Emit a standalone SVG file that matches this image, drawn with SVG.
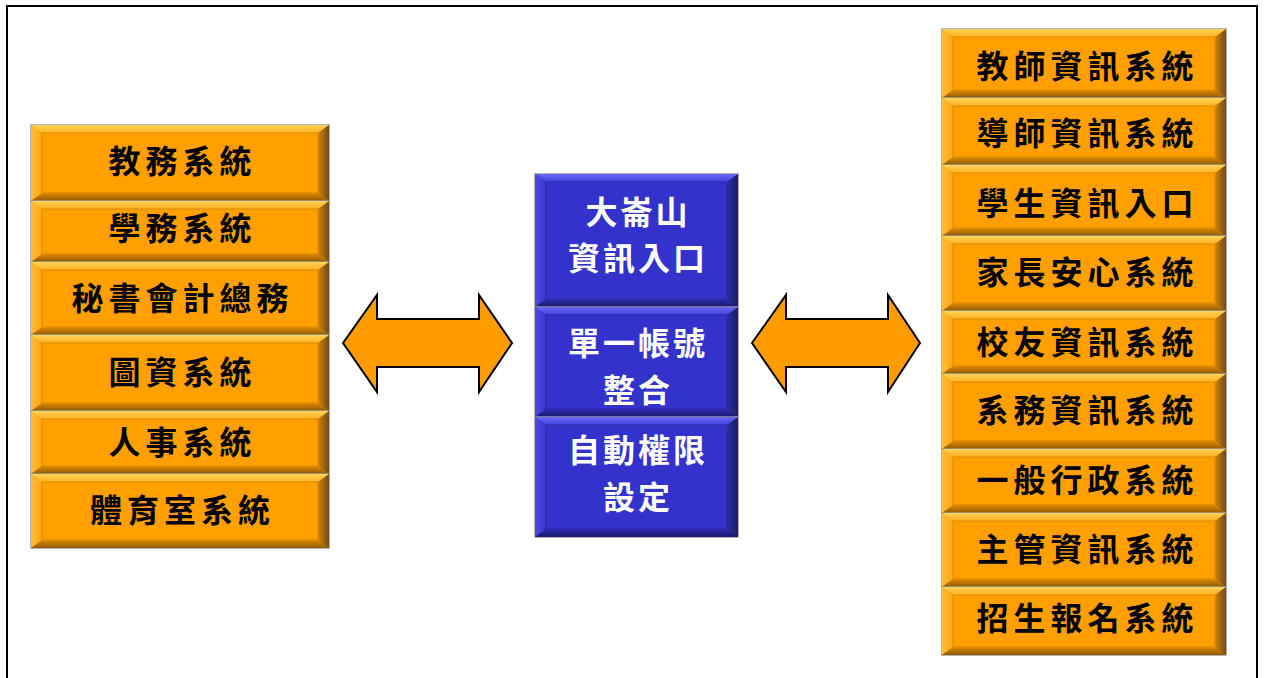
<svg xmlns="http://www.w3.org/2000/svg" width="1264" height="678" viewBox="0 0 1264 678">
<defs>
<linearGradient id="gTopO" x1="0" y1="0" x2="0" y2="1"><stop offset="0" stop-color="#FFD458"/><stop offset="1" stop-color="#FFB020"/></linearGradient>
<linearGradient id="gBotO" x1="0" y1="0" x2="0" y2="1"><stop offset="0" stop-color="#E08A00"/><stop offset="1" stop-color="#8E5A08"/></linearGradient>
<linearGradient id="gRightO" x1="0" y1="0" x2="1" y2="0"><stop offset="0" stop-color="#D08400"/><stop offset="1" stop-color="#6E4A1E"/></linearGradient>
<linearGradient id="gLeftO" x1="0" y1="0" x2="1" y2="0"><stop offset="0" stop-color="#FFBC3A"/><stop offset="1" stop-color="#FFA510"/></linearGradient>
<linearGradient id="gTopB" x1="0" y1="0" x2="0" y2="1"><stop offset="0" stop-color="#6A6AF4"/><stop offset="1" stop-color="#4040DC"/></linearGradient>
<linearGradient id="gBotB" x1="0" y1="0" x2="0" y2="1"><stop offset="0" stop-color="#2E2EB4"/><stop offset="1" stop-color="#18186A"/></linearGradient>
<linearGradient id="gRightB" x1="0" y1="0" x2="1" y2="0"><stop offset="0" stop-color="#2D2DA8"/><stop offset="1" stop-color="#1E1E5E"/></linearGradient>
<linearGradient id="gLeftB" x1="0" y1="0" x2="1" y2="0"><stop offset="0" stop-color="#4C4CE4"/><stop offset="1" stop-color="#3838D0"/></linearGradient>
</defs>
<style>
.base-o{fill:#FFA000;stroke:#9A9A9A;stroke-width:1.5}
.top-o{fill:url(#gTopO)}
.left-o{fill:url(#gLeftO)}
.bot-o{fill:url(#gBotO)}
.right-o{fill:url(#gRightO)}
.in-o{fill:#FFA000;stroke:#D88A00;stroke-width:1}
.base-b{fill:#3333CC;stroke:#9A9A9A;stroke-width:1.5}
.top-b{fill:url(#gTopB)}
.left-b{fill:url(#gLeftB)}
.bot-b{fill:url(#gBotB)}
.right-b{fill:url(#gRightB)}
.in-b{fill:#3333CC;stroke:#2828A8;stroke-width:1}
.t{font-family:"Noto Sans CJK TC","Noto Sans CJK SC",sans-serif;font-weight:bold;font-size:32px;text-anchor:middle}
.to{fill:#000;letter-spacing:5px}
.tb{fill:#FFF;letter-spacing:3px}
.arrow{fill:#FF9C00;stroke:#000;stroke-width:2;stroke-linejoin:miter}
</style>
<rect x="0" y="0" width="1264" height="678" fill="#FFFFFF"/>
<rect id="frame" x="7" y="6" width="1250" height="690" fill="none" stroke="#000" stroke-width="2"/>

<g id="left-1"><rect class="base-o" x="31" y="125" width="298" height="76"/><polygon class="top-o" points="31,125 329,125 318,133 42,133"/><polygon class="left-o" points="31,125 42,133 42,193 31,201"/><polygon class="bot-o" points="31,201 329,201 318,193 42,193"/><polygon class="right-o" points="329,125 318,133 318,193 329,201"/><rect class="in-o" x="42" y="133" width="276" height="60"/><text class="t to" x="182.5" y="173">教務系統</text></g>
<g id="left-2"><rect class="base-o" x="31" y="201" width="298" height="61"/><polygon class="top-o" points="31,201 329,201 318,209 42,209"/><polygon class="left-o" points="31,201 42,209 42,254 31,262"/><polygon class="bot-o" points="31,262 329,262 318,254 42,254"/><polygon class="right-o" points="329,201 318,209 318,254 329,262"/><rect class="in-o" x="42" y="209" width="276" height="45"/><text class="t to" x="182.5" y="240">學務系統</text></g>
<g id="left-3"><rect class="base-o" x="31" y="262" width="298" height="73"/><polygon class="top-o" points="31,262 329,262 318,270 42,270"/><polygon class="left-o" points="31,262 42,270 42,327 31,335"/><polygon class="bot-o" points="31,335 329,335 318,327 42,327"/><polygon class="right-o" points="329,262 318,270 318,327 329,335"/><rect class="in-o" x="42" y="270" width="276" height="57"/><text class="t to" x="182.5" y="310">秘書會計總務</text></g>
<g id="left-4"><rect class="base-o" x="31" y="335" width="298" height="76"/><polygon class="top-o" points="31,335 329,335 318,343 42,343"/><polygon class="left-o" points="31,335 42,343 42,403 31,411"/><polygon class="bot-o" points="31,411 329,411 318,403 42,403"/><polygon class="right-o" points="329,335 318,343 318,403 329,411"/><rect class="in-o" x="42" y="343" width="276" height="60"/><text class="t to" x="182.5" y="384">圖資系統</text></g>
<g id="left-5"><rect class="base-o" x="31" y="411" width="298" height="63"/><polygon class="top-o" points="31,411 329,411 318,419 42,419"/><polygon class="left-o" points="31,411 42,419 42,466 31,474"/><polygon class="bot-o" points="31,474 329,474 318,466 42,466"/><polygon class="right-o" points="329,411 318,419 318,466 329,474"/><rect class="in-o" x="42" y="419" width="276" height="47"/><text class="t to" x="182.5" y="454">人事系統</text></g>
<g id="left-6"><rect class="base-o" x="31" y="474" width="298" height="74"/><polygon class="top-o" points="31,474 329,474 318,482 42,482"/><polygon class="left-o" points="31,474 42,482 42,540 31,548"/><polygon class="bot-o" points="31,548 329,548 318,540 42,540"/><polygon class="right-o" points="329,474 318,482 318,540 329,548"/><rect class="in-o" x="42" y="482" width="276" height="58"/><text class="t to" x="182.5" y="522">體育室系統</text></g>

<g id="mid-1"><rect class="base-b" x="535" y="174" width="203" height="133"/><polygon class="top-b" points="535,174 738,174 727,182 546,182"/><polygon class="left-b" points="535,174 546,182 546,299 535,307"/><polygon class="bot-b" points="535,307 738,307 727,299 546,299"/><polygon class="right-b" points="738,174 727,182 727,299 738,307"/><rect class="in-b" x="546" y="182" width="181" height="117"/><text class="t tb" x="638" y="224">大崙山</text><text class="t tb" x="638" y="270">資訊入口</text></g>
<g id="mid-2"><rect class="base-b" x="535" y="307" width="203" height="110"/><polygon class="top-b" points="535,307 738,307 727,315 546,315"/><polygon class="left-b" points="535,307 546,315 546,409 535,417"/><polygon class="bot-b" points="535,417 738,417 727,409 546,409"/><polygon class="right-b" points="738,307 727,315 727,409 738,417"/><rect class="in-b" x="546" y="315" width="181" height="94"/><text class="t tb" x="638" y="355">單一帳號</text><text class="t tb" x="638" y="402">整合</text></g>
<g id="mid-3"><rect class="base-b" x="535" y="417" width="203" height="120"/><polygon class="top-b" points="535,417 738,417 727,425 546,425"/><polygon class="left-b" points="535,417 546,425 546,529 535,537"/><polygon class="bot-b" points="535,537 738,537 727,529 546,529"/><polygon class="right-b" points="738,417 727,425 727,529 738,537"/><rect class="in-b" x="546" y="425" width="181" height="104"/><text class="t tb" x="638" y="462">自動權限</text><text class="t tb" x="638" y="509">設定</text></g>

<g id="right-1"><rect class="base-o" x="942" y="29" width="284" height="69"/><polygon class="top-o" points="942,29 1226,29 1215,37 953,37"/><polygon class="left-o" points="942,29 953,37 953,90 942,98"/><polygon class="bot-o" points="942,98 1226,98 1215,90 953,90"/><polygon class="right-o" points="1226,29 1215,37 1215,90 1226,98"/><rect class="in-o" x="953" y="37" width="262" height="53"/><text class="t to" x="1087.5" y="78">教師資訊系統</text></g>
<g id="right-2"><rect class="base-o" x="942" y="98" width="284" height="67"/><polygon class="top-o" points="942,98 1226,98 1215,106 953,106"/><polygon class="left-o" points="942,98 953,106 953,157 942,165"/><polygon class="bot-o" points="942,165 1226,165 1215,157 953,157"/><polygon class="right-o" points="1226,98 1215,106 1215,157 1226,165"/><rect class="in-o" x="953" y="106" width="262" height="51"/><text class="t to" x="1087.5" y="145">導師資訊系統</text></g>
<g id="right-3"><rect class="base-o" x="942" y="165" width="284" height="71"/><polygon class="top-o" points="942,165 1226,165 1215,173 953,173"/><polygon class="left-o" points="942,165 953,173 953,228 942,236"/><polygon class="bot-o" points="942,236 1226,236 1215,228 953,228"/><polygon class="right-o" points="1226,165 1215,173 1215,228 1226,236"/><rect class="in-o" x="953" y="173" width="262" height="55"/><text class="t to" x="1087.5" y="215">學生資訊入口</text></g>
<g id="right-4"><rect class="base-o" x="942" y="236" width="284" height="75"/><polygon class="top-o" points="942,236 1226,236 1215,244 953,244"/><polygon class="left-o" points="942,236 953,244 953,303 942,311"/><polygon class="bot-o" points="942,311 1226,311 1215,303 953,303"/><polygon class="right-o" points="1226,236 1215,244 1215,303 1226,311"/><rect class="in-o" x="953" y="244" width="262" height="59"/><text class="t to" x="1087.5" y="284">家長安心系統</text></g>
<g id="right-5"><rect class="base-o" x="942" y="311" width="284" height="63"/><polygon class="top-o" points="942,311 1226,311 1215,319 953,319"/><polygon class="left-o" points="942,311 953,319 953,366 942,374"/><polygon class="bot-o" points="942,374 1226,374 1215,366 953,366"/><polygon class="right-o" points="1226,311 1215,319 1215,366 1226,374"/><rect class="in-o" x="953" y="319" width="262" height="47"/><text class="t to" x="1087.5" y="354">校友資訊系統</text></g>
<g id="right-6"><rect class="base-o" x="942" y="374" width="284" height="75"/><polygon class="top-o" points="942,374 1226,374 1215,382 953,382"/><polygon class="left-o" points="942,374 953,382 953,441 942,449"/><polygon class="bot-o" points="942,449 1226,449 1215,441 953,441"/><polygon class="right-o" points="1226,374 1215,382 1215,441 1226,449"/><rect class="in-o" x="953" y="382" width="262" height="59"/><text class="t to" x="1087.5" y="422">系務資訊系統</text></g>
<g id="right-7"><rect class="base-o" x="942" y="449" width="284" height="64"/><polygon class="top-o" points="942,449 1226,449 1215,457 953,457"/><polygon class="left-o" points="942,449 953,457 953,505 942,513"/><polygon class="bot-o" points="942,513 1226,513 1215,505 953,505"/><polygon class="right-o" points="1226,449 1215,457 1215,505 1226,513"/><rect class="in-o" x="953" y="457" width="262" height="48"/><text class="t to" x="1087.5" y="492">一般行政系統</text></g>
<g id="right-8"><rect class="base-o" x="942" y="513" width="284" height="74"/><polygon class="top-o" points="942,513 1226,513 1215,521 953,521"/><polygon class="left-o" points="942,513 953,521 953,579 942,587"/><polygon class="bot-o" points="942,587 1226,587 1215,579 953,579"/><polygon class="right-o" points="1226,513 1215,521 1215,579 1226,587"/><rect class="in-o" x="953" y="521" width="262" height="58"/><text class="t to" x="1087.5" y="561">主管資訊系統</text></g>
<g id="right-9"><rect class="base-o" x="942" y="587" width="284" height="68"/><polygon class="top-o" points="942,587 1226,587 1215,595 953,595"/><polygon class="left-o" points="942,587 953,595 953,647 942,655"/><polygon class="bot-o" points="942,655 1226,655 1215,647 953,647"/><polygon class="right-o" points="1226,587 1215,595 1215,647 1226,655"/><rect class="in-o" x="953" y="595" width="262" height="52"/><text class="t to" x="1087.5" y="630">招生報名系統</text></g>

<g id="connectors">
<polygon class="arrow" points="343,343 377,295 377,319 479,319 479,295 512,343 479,392 479,367 377,367 377,392"/>
<polygon class="arrow" points="752,343 786,295 786,319 888,319 888,295 920,343 888,392 888,367 786,367 786,392"/>
</g>
</svg>
